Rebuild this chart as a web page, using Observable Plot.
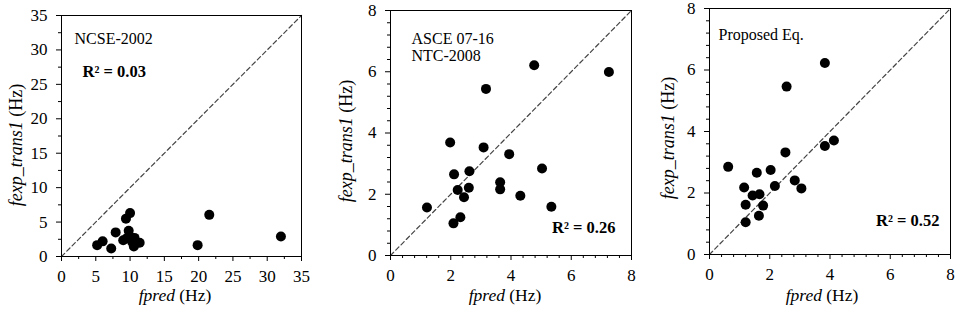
<!DOCTYPE html>
<html>
<head>
<meta charset="utf-8">
<script src="https://cdn.jsdelivr.net/npm/d3@7"></script>
<script src="https://cdn.jsdelivr.net/npm/@observablehq/plot@0.6"></script>
<style>
  html, body { margin: 0; padding: 0; background: #fff; }
  #wrap { position: relative; width: 957px; height: 310px; }
  #wrap svg { position: absolute; top: 0; }
</style>
</head>
<body>
<div id="wrap"></div>
<script>
// Panel 1: NCSE-2002
const ncseX = [5.2, 6.0, 7.25, 7.9, 9.4, 10.0, 9.8, 9.0, 9.5, 10.15, 10.65, 10.55, 11.4, 19.85, 21.55, 32.0, 10.3, 10.8];
const ncseY = [1.65, 2.2, 1.15, 3.5, 5.5, 6.3, 3.75, 2.35, 2.65, 2.75, 2.7, 1.45, 2.0, 1.65, 6.05, 2.9, 2.1, 1.9];
// Panel 2: ASCE 07-16 / NTC-2008
const asceX = [1.21, 1.98, 2.11, 2.23, 2.09, 2.32, 2.44, 2.60, 2.62, 3.09, 3.17, 3.64, 3.64, 3.94, 4.31, 4.77, 5.03, 5.34, 7.25];
const asceY = [1.57, 3.69, 2.65, 2.14, 1.05, 1.25, 1.90, 2.21, 2.75, 3.53, 5.44, 2.39, 2.16, 3.31, 1.95, 6.21, 2.84, 1.59, 5.99];
// Panel 3: Proposed Eq.
const propX = [0.62, 1.15, 1.20, 1.20, 1.43, 1.57, 1.66, 1.64, 1.78, 2.03, 2.17, 2.52, 2.56, 2.83, 3.05, 3.83, 3.83, 4.13];
const propY = [2.85, 2.18, 1.62, 1.05, 1.92, 2.66, 1.96, 1.26, 1.59, 2.75, 2.23, 3.32, 5.46, 2.41, 2.15, 6.23, 3.53, 3.71];

const majorTicks1 = [0, 5, 10, 15, 20, 25, 30, 35];
const majorTicks2 = [0, 2, 4, 6, 8];

const FONT = "'Liberation Serif', 'Times New Roman', serif";

function panel(cfg) {
  const data = cfg.xs.map((x, i) => ({x, y: cfg.ys[i]}));
  const max = cfg.max;
  const minor = d3.range(0, max + 1e-9, cfg.minorStep).filter(v => !cfg.major.some(m => Math.abs(m - v) < 1e-9));
  const marks = [
    Plot.line([[0, 0], [max, max]], {stroke: "#444", strokeWidth: 1.2, strokeDasharray: "4.5,3"}),
    Plot.dot(data, {x: "x", y: "y", r: 5, fill: "black", stroke: "none"}),
    Plot.frame({stroke: "black", strokeWidth: 1}),
    Plot.axisX({ticks: cfg.major, tickSize: 5, tickPadding: 8, label: null, tickFormat: d => String(d)}),
    Plot.axisX({ticks: minor, tickSize: 3, tickFormat: () => "", label: null}),
    Plot.axisY({ticks: cfg.major, tickSize: 5, tickPadding: 9, label: null, tickFormat: d => String(d)}),
    Plot.axisY({ticks: minor, tickSize: 3, tickFormat: () => "", label: null})
  ];
  for (const a of cfg.notes) {
    marks.push(Plot.text([a.text], {
      text: d => d, frameAnchor: a.anchor, dx: a.dx, dy: a.dy,
      textAnchor: a.ta, fontSize: a.bold ? 16.5 : 16, fontWeight: a.bold ? "bold" : "normal", fill: "black"
    }));
  }
  const svg = Plot.plot({
    width: cfg.width, height: 310,
    marginLeft: cfg.ml, marginRight: cfg.mr, marginTop: cfg.mt, marginBottom: cfg.mb,
    x: {domain: [0, max]}, y: {domain: [0, max]},
    style: {fontFamily: FONT, fontSize: "17px", color: "black", background: "white", overflow: "visible"},
    marks
  });
  svg.style.left = cfg.left + "px";
  const s = d3.select(svg);
  s.selectAll('g[aria-label="x-axis tick label"], g[aria-label="y-axis tick label"]')
    .attr("font-size", 17).attr("font-family", FONT).attr("fill", "black");
  // x axis label
  const xl = s.append("text").attr("x", cfg.xlx).attr("y", 301).attr("text-anchor", "middle")
    .attr("font-family", FONT).attr("font-size", 17.5).attr("fill", "black");
  xl.append("tspan").attr("font-style", "italic").text("fpred");
  xl.append("tspan").text(" (Hz)");
  // y axis label
  const yl = s.append("text").attr("transform", `translate(${cfg.ylx},${cfg.yly}) rotate(-90)`)
    .attr("text-anchor", "middle").attr("dy", "0.35em")
    .attr("font-family", FONT).attr("font-size", 18).attr("fill", "black");
  yl.append("tspan").attr("font-style", "italic").text("fexp_trans1");
  yl.append("tspan").text(" (Hz)");
  document.getElementById("wrap").appendChild(svg);
}

panel({
  xs: ncseX, ys: ncseY, max: 35, major: majorTicks1, minorStep: 2.5,
  left: 0, width: 320, ml: 61, mr: 19, mt: 15, mb: 54,
  xlx: 175, ylx: 16, yly: 145,
  notes: [
    {text: "NCSE-2002", anchor: "top-left", dx: 13, dy: 17, ta: "start"},
    {text: "R² = 0.03", anchor: "top-left", dx: 21, dy: 50, ta: "start", bold: true}
  ]
});
panel({
  xs: asceX, ys: asceY, max: 8, major: majorTicks2, minorStep: 0.4,
  left: 320, width: 320, ml: 70, mr: 9, mt: 10, mb: 55,
  xlx: 185, ylx: 26, yly: 141,
  notes: [
    {text: "ASCE 07-16", anchor: "top-left", dx: 21, dy: 22, ta: "start"},
    {text: "NTC-2008", anchor: "top-left", dx: 21, dy: 39, ta: "start"},
    {text: "R² = 0.26", anchor: "bottom-right", dx: -16, dy: -23, ta: "end", bold: true}
  ]
});
panel({
  xs: propX, ys: propY, max: 8, major: majorTicks2, minorStep: 0.4,
  left: 640, width: 317, ml: 69, mr: 7, mt: 8, mb: 56,
  xlx: 182, ylx: 28, yly: 138,
  notes: [
    {text: "Proposed Eq.", anchor: "top-left", dx: 9, dy: 20, ta: "start"},
    {text: "R² = 0.52", anchor: "bottom-right", dx: -11, dy: -29, ta: "end", bold: true}
  ]
});
</script>
</body>
</html>
